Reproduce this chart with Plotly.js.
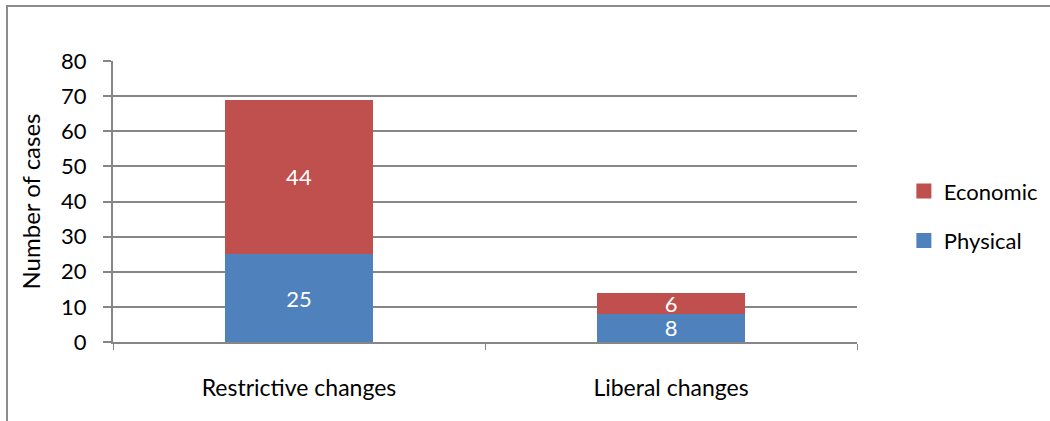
<!DOCTYPE html>
<html>
<head>
<meta charset="utf-8">
<script src="https://cdn.plot.ly/plotly-3.0.1.min.js"></script>
<style>html,body{margin:0;padding:0;background:#fff;}#chart{width:1050px;height:421px;}</style>
</head>
<body>
<div id="chart"></div>
<script>
const categories = ["Restrictive changes", "Liberal changes"];
const physical = [25, 8];
const economic = [44, 6];
const yTicks = [0, 10, 20, 30, 40, 50, 60, 70, 80];
const seriesNames = ["Physical", "Economic"];
const seriesColors = ["#4F81BD", "#C0504D"];

const fam = "Lato, 'Open Sans', sans-serif";

const barTrace = (name, vals, color) => ({
  type: "bar", name: name, x: categories, y: vals, showlegend: false,
  marker: {color: color}, text: vals.map(String), textposition: "inside", textangle: 0,
  constraintext: "none", insidetextanchor: "middle",
  textfont: {family: fam, size: 22, color: "#fff"}, hoverinfo: "skip"
});
const legendTrace = (name, color, rank) => ({
  type: "scatter", mode: "markers", name: name, x: [null], y: [null], legendgroup: name,
  legendrank: rank, marker: {symbol: "square", size: 15, color: color}, hoverinfo: "skip"
});

const traces = [
  barTrace(seriesNames[0], physical, seriesColors[0]),
  barTrace(seriesNames[1], economic, seriesColors[1]),
  legendTrace(seriesNames[1], seriesColors[1], 1),
  legendTrace(seriesNames[0], seriesColors[0], 2)
];

const W = 744, H = 281;
const layout = {
  width: 1050, height: 421,
  margin: {l: 113, r: 193, t: 61, b: 79, pad: 0, autoexpand: false},
  barmode: "stack", bargap: 0.6,
  paper_bgcolor: "#fff", plot_bgcolor: "#fff",
  font: {family: fam, size: 22, color: "#000"},
  showlegend: true,
  legend: {x: 1.063, y: 0.448, xanchor: "left", yanchor: "middle", traceorder: "grouped",
           font: {family: fam, size: 22, color: "#000"}, tracegroupgap: 18, itemwidth: 30,
           itemsizing: "trace"},
  xaxis: {type: "category", showgrid: false, showline: true, linecolor: "#868686", linewidth: 2,
          ticks: "outside", tickson: "boundaries", ticklen: 6, tickcolor: "#868686", tickwidth: 1,
          tickfont: {family: fam, size: 23, color: "#000"}, ticklabelstandoff: 24, zeroline: false},
  yaxis: {range: [0, 80], tickvals: yTicks, showgrid: true, gridcolor: "#868686", gridwidth: 2,
          showline: true, linecolor: "#868686", linewidth: 2, ticks: "outside", ticklen: 8,
          tickcolor: "#868686", tickwidth: 2, zeroline: false,
          tickfont: {family: fam, size: 22, color: "#000"}, ticklabelstandoff: 12,
          title: {text: "Number of cases", font: {family: fam, size: 24, color: "#000"}, standoff: 14}},
  shapes: [{type: "rect", xref: "paper", yref: "paper",
            x0: (7 - 113) / W, x1: (1060 - 113) / W, y0: (342 - 440) / H, y1: (342 - 6) / H,
            line: {color: "#8c8c8c", width: 2}, fillcolor: "rgba(0,0,0,0)", layer: "below"}]
};

Plotly.newPlot("chart", traces, layout, {displayModeBar: false, staticPlot: true});
</script>
</body>
</html>
